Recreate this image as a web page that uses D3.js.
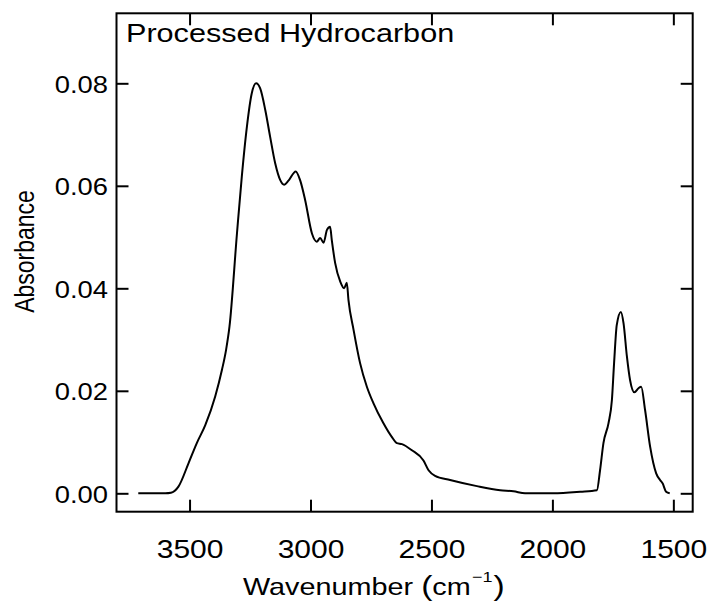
<!DOCTYPE html>
<html>
<head>
<meta charset="utf-8">
<script src="https://cdn.jsdelivr.net/npm/d3@7"></script>
<style>
  body { margin: 0; background: #fff; }
  text { font-family: "Liberation Sans", Arial, Helvetica, sans-serif; fill: #000; }
</style>
</head>
<body>
<script>
// IR absorbance spectrum
var wavenumber = [3712, 3650, 3600, 3577, 3546, 3504, 3470, 3435, 3394, 3366, 3349, 3335, 3304, 3284, 3263, 3243, 3225, 3208, 3187, 3167, 3146, 3125, 3109, 3091, 3061, 3043, 3022, 2994, 2974, 2960, 2946, 2932, 2919, 2912, 2898, 2877, 2861, 2850, 2843, 2822, 2795, 2767, 2740, 2699, 2664, 2643, 2622, 2581, 2533, 2512, 2485, 2423, 2312, 2216, 2161, 2113, 1996, 1885, 1816, 1803, 1789, 1768, 1754, 1745, 1734, 1717, 1706, 1692, 1679, 1661, 1644, 1633, 1617, 1596, 1571, 1555, 1544, 1530, 1515];
var absorbance = [0, 0, 0, 0.0001, 0.0013, 0.0059, 0.0098, 0.0133, 0.0189, 0.0241, 0.0280, 0.0325, 0.0507, 0.0618, 0.0715, 0.0780, 0.0800, 0.0790, 0.0748, 0.0696, 0.0644, 0.0611, 0.0602, 0.0610, 0.0628, 0.0611, 0.0572, 0.0507, 0.0491, 0.0498, 0.0489, 0.0514, 0.0520, 0.0494, 0.0449, 0.0413, 0.0400, 0.0411, 0.0377, 0.0319, 0.0254, 0.0208, 0.0176, 0.0137, 0.0110, 0.0098, 0.0096, 0.0084, 0.0064, 0.0045, 0.0034, 0.0026, 0.0014, 0.0006, 0.0004, 0.0000, 0.0000, 0.0003, 0.0006, 0.0045, 0.0098, 0.0137, 0.0182, 0.0254, 0.0328, 0.0354, 0.0332, 0.0267, 0.0221, 0.0197, 0.0205, 0.0208, 0.0163, 0.0091, 0.0039, 0.0026, 0.0019, 0.0003, 0.0000];
var xTicks = [3500, 3000, 2500, 2000, 1500];
var yTicks = [0, 0.02, 0.04, 0.06, 0.08];

var width = 707, height = 610;
var frame = {left: 116.5, right: 692.7, top: 13.3, bottom: 511.7};
var stretch = 1.2;   // text in the picture is a bit wider than tall

var x = d3.scaleLinear().domain([3802, 1420]).range([frame.left, frame.right]);
var y = d3.scaleLinear().domain([-0.00359, 0.09366]).range([frame.bottom, frame.top]);

var svg = d3.select("body").append("svg").attr("width", width).attr("height", height);

// axes, ticks pointing inwards on all four sides
var bottomAxis = svg.append("g").attr("transform", "translate(0," + frame.bottom + ")")
    .call(d3.axisBottom(x).tickValues(xTicks).tickSizeInner(-12).tickSizeOuter(0).tickFormat(d3.format("d")));
bottomAxis.selectAll("text")
    .attr("y", 46.5).attr("dy", 0)
    .attr("font-size", 25)
    .attr("transform", "scale(" + stretch + ",1)");

svg.append("g").attr("transform", "translate(0," + frame.top + ")")
    .call(d3.axisTop(x).tickValues(xTicks).tickSizeInner(-12).tickSizeOuter(0).tickFormat(""));

var leftAxis = svg.append("g").attr("transform", "translate(" + frame.left + ",0)")
    .call(d3.axisLeft(y).tickValues(yTicks).tickSizeInner(-12).tickSizeOuter(0).tickFormat(d3.format(".2f")));
leftAxis.selectAll("text")
    .attr("x", -8.5 / 1.14).attr("dy", "0.38em")
    .attr("font-size", 24)
    .attr("transform", "scale(1.14,1)");

svg.append("g").attr("transform", "translate(" + frame.right + ",0)")
    .call(d3.axisRight(y).tickValues(yTicks).tickSizeInner(-12).tickSizeOuter(0).tickFormat(""));

svg.selectAll(".domain").remove();
svg.selectAll(".tick line").attr("stroke", "#000").attr("stroke-width", 2);
svg.selectAll(".tick text").attr("font-family", null);

svg.append("rect")
    .attr("x", frame.left).attr("y", frame.top)
    .attr("width", frame.right - frame.left).attr("height", frame.bottom - frame.top)
    .attr("fill", "none").attr("stroke", "#000").attr("stroke-width", 2);

// spectrum
var line = d3.line()
    .x(function(d, i) { return x(wavenumber[i]); })
    .y(function(d) { return y(d); })
    .curve(d3.curveMonotoneX);

svg.append("path")
    .datum(absorbance)
    .attr("d", line)
    .attr("fill", "none")
    .attr("stroke", "#000")
    .attr("stroke-width", 2)
    .attr("stroke-linejoin", "round");

// title inside the frame
svg.append("text")
    .attr("transform", "translate(126,41.7) scale(" + stretch + ",1)")
    .attr("font-size", 25.5)
    .text("Processed Hydrocarbon");

// axis titles
svg.append("text")
    .attr("transform", "translate(33.5,251.5) scale(" + stretch + ",1) rotate(-90)")
    .attr("text-anchor", "middle")
    .attr("font-size", 23)
    .text("Absorbance");

var xLabel = svg.append("text")
    .attr("transform", "translate(243,595) scale(" + stretch + ",1)")
    .attr("font-size", 24);
xLabel.append("tspan").text("Wavenumber ");
xLabel.append("tspan").attr("font-size", 28).text("(");
xLabel.append("tspan").text("cm");
xLabel.append("tspan").attr("font-size", 15).attr("dy", -13).attr("dx", 1).text("\u22121");
xLabel.append("tspan").attr("font-size", 28).attr("dy", 13).attr("dx", 1).text(")");
</script>
</body>
</html>
